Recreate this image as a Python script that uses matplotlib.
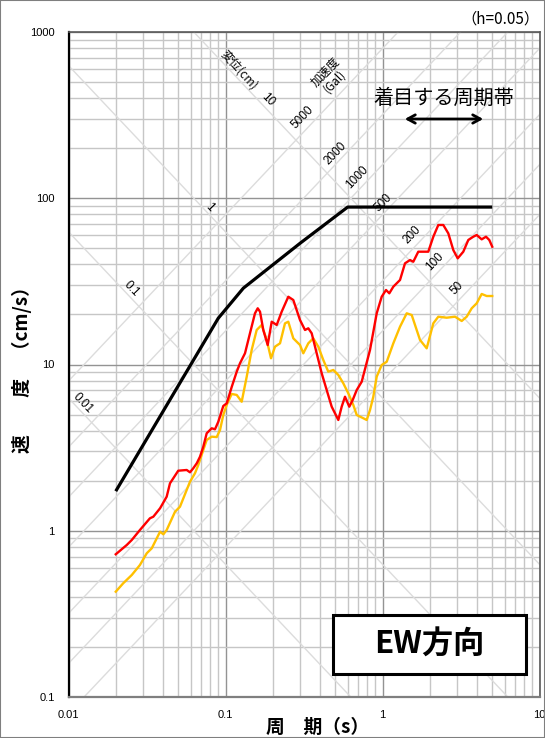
import numpy as np
import matplotlib
matplotlib.use("Agg")
import matplotlib.pyplot as plt
from matplotlib.patches import Rectangle
from matplotlib.ticker import LogLocator, NullFormatter, FixedLocator, FixedFormatter

plt.rcParams['font.family'] = ['Liberation Sans', 'Noto Sans CJK JP', 'DejaVu Sans']
JP = ['Noto Sans CJK JP', 'DejaVu Sans']

# ---------------- data ----------------
black_T = [0.02, 0.09, 0.13, 0.30, 0.60, 5.0]
black_V = [1.73, 19.0, 28.8, 53.8, 88.5, 88.5]

red_T = [0.020, 0.0235, 0.0253, 0.0285, 0.0330, 0.0347, 0.0383, 0.0422, 0.0443, 0.0465,
         0.0500, 0.0566, 0.0594, 0.0623, 0.0656, 0.0688, 0.0722, 0.0759, 0.0817, 0.0857,
         0.0900, 0.0968, 0.1018, 0.1095, 0.1179, 0.1237, 0.1331, 0.1432, 0.1541, 0.1604,
         0.1659, 0.1741, 0.1857, 0.1969, 0.2119, 0.2280, 0.2512, 0.2703, 0.2982, 0.3209,
         0.3368, 0.3540, 0.3809, 0.4100, 0.4411, 0.4747, 0.5231, 0.5496, 0.5769, 0.6144,
         0.6459, 0.6851, 0.7372, 0.8325, 0.9186, 0.9883, 1.053, 1.105, 1.172, 1.293,
         1.391, 1.497, 1.571, 1.690, 1.957, 2.107, 2.267, 2.439, 2.625, 2.825,
         3.013, 3.271, 3.520, 3.787, 3.981, 4.283, 4.563, 4.789, 5.0]
red_V = [0.722, 0.821, 0.880, 1.01, 1.188, 1.215, 1.365, 1.603, 1.929, 2.068,
         2.297, 2.320, 2.247, 2.374, 2.545, 2.789, 3.203, 3.857, 4.133, 4.076,
         4.529, 5.63, 5.84, 7.32, 9.05, 10.17, 11.68, 15.41, 20.32, 21.78,
         20.78, 16.13, 13.10, 18.09, 17.29, 20.78, 25.57, 24.43, 18.52, 16.13,
         16.51, 15.41, 11.68, 8.85, 7.02, 5.575, 4.637, 5.575, 6.40, 5.575,
         6.115, 7.02, 7.88, 12.23, 20.32, 25.57, 28.06, 26.81, 29.38, 32.24,
         40.6, 42.5, 41.5, 47.7, 47.7, 58.7, 69.05, 69.05, 61.5, 48.8,
         43.5, 47.7, 56.1, 58.7, 60.1, 56.6, 58.7, 56.1, 51.1]

yellow_T = [0.020, 0.0223, 0.0253, 0.0285, 0.0315, 0.0339, 0.0383, 0.0402, 0.0422, 0.0477,
            0.0513, 0.0594, 0.0639, 0.0671, 0.0722, 0.0759, 0.0817, 0.0879, 0.0923, 0.0968,
            0.1018, 0.1095, 0.1179, 0.1268, 0.1365, 0.1468, 0.1580, 0.1700, 0.1830, 0.1949,
            0.2067, 0.2225, 0.2393, 0.2512, 0.2703, 0.2982, 0.3130, 0.3368, 0.3624, 0.3900,
            0.4197, 0.4517, 0.4859, 0.5231, 0.5627, 0.6055, 0.6516, 0.6851, 0.7547, 0.7933,
            0.8325, 0.8738, 0.9186, 0.9883, 1.064, 1.172, 1.293, 1.426, 1.535, 1.651,
            1.734, 1.912, 2.107, 2.267, 2.564, 2.896, 3.196, 3.438, 3.700, 3.981,
            4.283, 4.610, 5.0]
yellow_V = [0.430, 0.483, 0.542, 0.622, 0.732, 0.784, 0.987, 0.952, 1.01, 1.302,
            1.395, 1.972, 2.216, 2.486, 3.06, 3.515, 3.68, 3.66, 4.04, 4.97,
            5.71, 6.65, 6.56, 5.97, 8.45, 12.23, 16.13, 17.29, 14.04, 10.90,
            12.80, 13.41, 17.69, 18.09, 14.37, 13.10, 11.68, 13.41, 14.37, 12.80,
            10.64, 9.05, 9.27, 8.65, 7.71, 6.71, 5.71, 4.97, 4.75, 4.637,
            5.32, 6.40, 8.45, 9.93, 10.39, 13.41, 16.88, 20.32, 19.85, 16.13,
            14.04, 12.51, 17.69, 19.39, 19.12, 19.39, 18.27, 19.39, 21.78, 23.34,
            26.56, 25.82, 25.82]

disp_levels = [0.01, 0.1, 1, 10]                       # cm
acc_levels = [50, 100, 200, 500, 1000, 2000, 5000]     # Gal

x_ticks = [0.01, 0.1, 1, 10]
x_ticklabels = ['0.01', '0.1', '1', '10']
y_ticks = [0.1, 1, 10, 100, 1000]
y_ticklabels = ['0.1', '1', '10', '100', '1000']

# ---------------- figure ----------------
W, H = 545, 738
fig = plt.figure(figsize=(W / 100, H / 100), dpi=100)


def px(x, y):
    return (x / W, 1 - y / H)


ax = fig.add_axes([68.5 / W, 1 - 697 / H, 471 / W, 665 / H])
ax.set_xscale('log')
ax.set_yscale('log')
ax.set_xlim(0.01, 10)
ax.set_ylim(0.1, 1000)

ax.xaxis.set_major_locator(FixedLocator(x_ticks))
ax.xaxis.set_major_formatter(FixedFormatter(x_ticklabels))
ax.yaxis.set_major_locator(FixedLocator(y_ticks))
ax.yaxis.set_major_formatter(FixedFormatter(y_ticklabels))
for a in (ax.xaxis, ax.yaxis):
    a.set_minor_locator(LogLocator(base=10, subs=np.arange(2, 10)))
    a.set_minor_formatter(NullFormatter())
ax.tick_params(which='both', length=0, labelsize=8, colors='black')
ax.tick_params(axis='y', pad=10)
ax.tick_params(axis='x', pad=9)

ax.grid(which='major', color='#939393', lw=1.0, zorder=0)
ax.grid(which='minor', color='#c6c6c6', lw=1.0, zorder=0)
ax.set_axisbelow(True)

# tripartite diagonals
Tl = np.array([0.005, 20.0])
for D in disp_levels:
    ax.plot(Tl, 2 * np.pi * D / Tl, color='#dcdcdc', lw=1.0, zorder=1)
for A in acc_levels:
    ax.plot(Tl, A * Tl / (2 * np.pi), color='#dcdcdc', lw=1.0, zorder=1)

# spectra
ax.plot(black_T, black_V, color='black', lw=2.3, zorder=4, solid_capstyle='butt')
ax.plot(yellow_T, yellow_V, color='#ffc000', lw=1.7, zorder=3)
ax.plot(red_T, red_V, color='#ff0000', lw=1.7, zorder=3)

for s in ['top', 'right']:
    ax.spines[s].set_color('#595959')
    ax.spines[s].set_linewidth(1.2)
ax.spines['left'].set_color('black')
ax.spines['left'].set_linewidth(1.6)
ax.spines['bottom'].set_color('#7f7f7f')
ax.spines['bottom'].set_linewidth(1.6)

# diagonal labels
lab_fs = 8.5
fig.text(*px(239, 70), '変位(cm)', rotation=-48, rotation_mode='anchor', ha='center', va='center',
         fontsize=lab_fs, family=JP)
fig.text(*px(330, 77), '加速度\n(Gal)', rotation=46, rotation_mode='anchor', ha='center', va='center',
         fontsize=lab_fs, family=JP, linespacing=1.0, multialignment='center')
for txt, (x, y) in [('10', (268, 100)), ('1', (210, 207)), ('0.1', (131, 289)), ('0.01', (83, 403))]:
    fig.text(*px(x, y), txt, rotation=-46, rotation_mode='anchor', ha='center', va='center', fontsize=lab_fs)
for txt, (x, y) in [('5000', (303, 117)), ('2000', (335, 153)), ('1000', (357, 177)),
                    ('500', (383, 203)), ('200', (412, 235)), ('100', (435, 262)), ('50', (457, 288))]:
    fig.text(*px(x, y), txt, rotation=46, rotation_mode='anchor', ha='center', va='center', fontsize=lab_fs)

# annotations
fig.text(*px(540, 19), '（h=0.05）', ha='right', va='center', fontsize=11, family=JP)
fig.text(*px(443.5, 98), '着目する周期帯', ha='center', va='center', fontsize=14.5, family=JP)
ax.annotate('', xy=px(486, 119), xytext=px(402, 119), xycoords='figure fraction',
            textcoords='figure fraction',
            arrowprops=dict(arrowstyle='<->,head_length=0.55,head_width=0.3', lw=2, color='black'))

box = Rectangle(px(332.7, 674), 193.3 / W, 59 / H, transform=fig.transFigure,
                facecolor='white', edgecolor='black', lw=2.2, zorder=5)
fig.patches.append(box)
fig.text(*px(429.4, 645), 'EW方向', ha='center', va='center', fontsize=22.5, fontweight='bold',
         family=JP, zorder=6)

# axis labels
fig.text(*px(318, 727), '周　期（s）', ha='center', va='center', fontsize=13.5, fontweight='bold', family=JP)
fig.text(*px(22, 365), '速　　度　（cm/s）', ha='center', va='center', rotation=90, fontsize=13.5,
         fontweight='bold', family=JP)

# figure border
fig.patches.append(Rectangle((0, 0), 1, 1, transform=fig.transFigure, fill=False,
                             edgecolor='#7f7f7f', lw=1.5))

fig.savefig('out.png', dpi=100)
